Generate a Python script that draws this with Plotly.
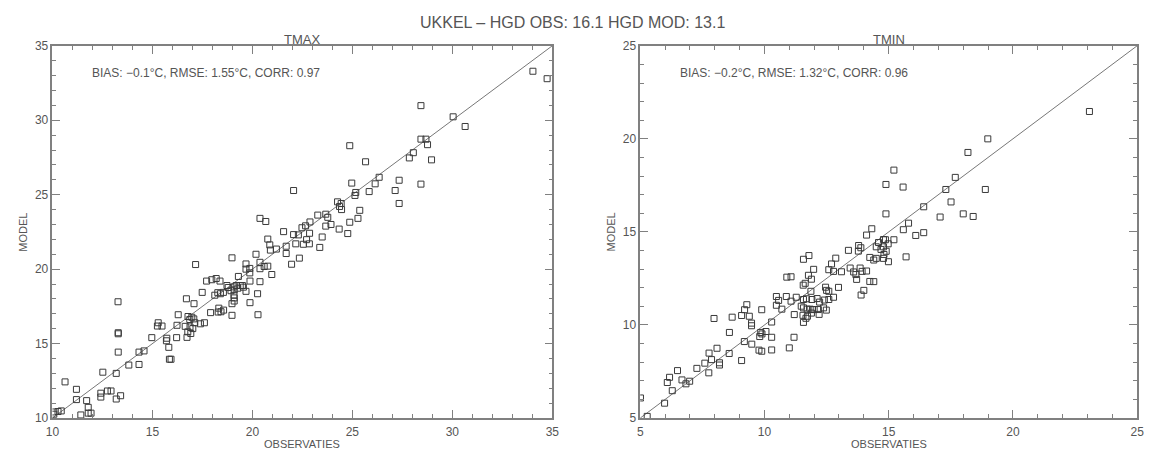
import plotly.graph_objects as go

# ---------------- data ----------------
TITLE = "UKKEL \u2013 HGD OBS: 16.1 HGD MOD: 13.1"
PANEL_TITLES = ["TMAX", "TMIN"]
STATS = ["BIAS: \u22120.1\u00b0C, RMSE: 1.55\u00b0C, CORR: 0.97",
         "BIAS: \u22120.2\u00b0C, RMSE: 1.32\u00b0C, CORR: 0.96"]
X_LABEL = "OBSERVATIES"
Y_LABEL = "MODEL"
TMAX_RANGE = [10, 35]
TMIN_RANGE = [5, 25]
TMAX_TICKS = [10, 15, 20, 25, 30, 35]
TMIN_TICKS = [5, 10, 15, 20, 25]

tmax_obs = [
    34.03, 34.74, 28.43, 30.04, 30.64, 24.87, 25.66, 28.43, 28.68, 28.76,
    27.85, 28.05, 28.96, 26.34, 26.14, 24.97, 27.34, 27.14, 28.43, 27.34,
    25.84, 25.17, 25.13, 22.06, 24.26, 24.44, 24.36, 24.46, 25.37, 23.27,
    23.67, 23.77, 25.28, 22.88, 24.87, 23.67, 23.93, 24.34, 24.77, 22.48,
    22.66, 22.06, 22.30, 22.86, 21.56, 23.49, 22.71, 22.85, 22.55, 22.17,
    21.69, 23.37, 21.69, 22.35,
    20.77, 20.87, 20.38, 20.67, 20.90, 21.20, 20.18, 20.38, 20.59, 20.77,
    20.38, 19.87, 19.87, 19.68, 19.68, 18.98, 17.16, 20.97, 19.88, 20.38,
    19.30, 17.71, 17.97, 18.19, 18.38, 18.73, 18.79, 19.08, 19.19, 19.27,
    19.39, 19.50, 19.55, 19.68, 19.09, 18.93, 18.27, 18.40, 18.55, 18.12,
    17.49, 20.26, 19.08, 19.09, 19.09, 18.98, 18.98, 19.88, 16.70, 17.08,
    18.32, 18.43, 18.56, 18.29, 17.91, 20.28, 16.29, 15.29, 15.25, 15.48,
    16.23, 21.96,
    16.78, 16.97, 17.07, 16.87, 17.12, 17.40, 17.60, 16.64, 16.88, 17.02,
    16.77, 16.92, 16.73, 16.21, 15.82, 15.85, 15.93, 15.72, 15.70, 14.97,
    14.58, 14.33, 14.33, 13.82, 13.28, 13.29, 13.29, 13.29, 13.19, 12.52,
    13.41, 13.19, 12.42, 12.42, 12.75, 12.93, 11.20, 11.20, 11.71, 11.79,
    11.79, 11.93, 11.42, 10.63, 10.07, 10.28, 10.44, 10.07,
]
tmax_mod = [
    33.29, 32.79, 30.98, 30.23, 29.58, 28.29, 27.21, 28.73, 28.73, 28.36,
    27.47, 27.82, 27.34, 26.17, 25.73, 25.78, 25.97, 25.28, 25.71, 24.41,
    25.21, 25.15, 24.95, 25.28, 24.52, 24.41, 24.21, 24.00, 23.95, 23.63,
    23.69, 23.48, 23.41, 23.17, 23.15, 22.89, 23.00, 22.69, 22.39, 22.78,
    22.91, 22.32, 22.30, 22.41, 22.52, 22.16, 21.98, 21.70, 21.67, 21.70,
    21.54, 21.46, 21.05, 20.74,
    22.02, 21.63, 23.41, 23.20, 21.28, 21.35, 21.00, 20.46, 20.18, 20.20,
    20.03, 20.05, 19.75, 20.35, 20.00, 20.76, 20.31, 19.64, 19.20, 19.16,
    19.51, 19.20, 19.29, 19.37, 19.20, 18.90, 18.77, 18.81, 18.90, 18.72,
    18.90, 18.90, 18.79, 18.51, 18.61, 18.55, 18.42, 18.35, 18.44, 18.25,
    18.44, 18.35, 18.25, 18.07, 17.86, 17.68, 16.90, 17.75, 18.01, 17.68,
    17.38, 17.14, 17.25, 17.12, 17.08, 16.94, 16.94, 16.40, 16.18, 16.18,
    16.23, 20.33,
    16.82, 16.77, 16.66, 16.62, 16.40, 16.33, 16.40, 16.16, 16.12, 16.01,
    15.79, 15.68, 15.42, 15.40, 14.75, 13.95, 13.95, 15.36, 15.19, 15.40,
    14.51, 14.43, 13.60, 13.56, 17.81, 15.73, 15.66, 14.43, 13.00, 13.08,
    11.50, 11.28, 11.67, 11.41, 11.82, 11.82, 11.93, 11.24, 11.17, 10.72,
    10.33, 10.33, 10.21, 12.43, 10.41, 10.44, 10.48, 10.26,
]

tmin_obs = [
    13.38, 13.78, 14.24, 14.40, 14.50, 11.57, 11.79, 12.87, 12.70, 11.98,
    12.59, 12.78, 13.10, 13.45, 13.59, 13.68, 13.71, 13.85, 13.93, 14.11,
    14.24, 14.40, 14.00, 13.89, 11.77, 11.89, 11.64, 11.56, 10.90, 11.07,
    11.87, 12.46, 12.50, 12.59, 12.98, 10.88, 10.48, 10.48, 10.57, 10.70,
    11.07, 11.28, 11.57, 11.69, 11.91, 12.12, 12.22, 12.41, 12.59, 12.78,
    11.48, 11.57, 11.72, 11.84, 11.93, 11.89, 11.73, 11.67, 11.57, 11.55,
    11.20, 12.17, 12.20, 12.38, 12.49, 12.00,
    11.19, 11.00, 10.29, 10.29, 10.29, 10.06, 9.85, 9.81, 9.90, 9.78,
    9.89, 9.49, 9.48, 9.48, 9.39, 9.29, 9.20, 9.08, 9.89, 9.19,
    9.08, 8.70, 7.97, 8.59, 8.58, 8.19, 8.19, 8.09, 7.87, 7.77,
    7.76, 7.60, 7.28, 6.50, 6.18, 6.09, 6.68, 6.84, 6.99, 6.29,
    5.98, 5.01, 5.28,
    18.19, 15.21, 14.89, 15.58, 17.68, 17.30, 18.89, 17.51, 16.41, 14.89,
    17.07, 18.00, 18.40, 15.80, 15.59, 16.41, 16.09, 14.32, 14.11, 14.79,
    14.87, 14.59, 14.50, 14.79, 14.98, 15.21, 14.69, 14.90, 14.81, 14.79,
    14.99, 15.70, 13.79, 13.88, 23.08, 18.99,
]
tmin_mod = [
    14.01, 13.97, 13.63, 13.49, 13.58, 13.53, 13.73, 13.59, 13.28, 12.99,
    12.97, 12.88, 12.86, 13.06, 12.85, 12.71, 12.45, 13.06, 12.88, 12.90,
    12.34, 12.33, 11.86, 11.61, 12.67, 12.46, 12.24, 12.14, 12.57, 12.59,
    11.81, 12.03, 11.86, 11.81, 12.02, 11.53, 11.53, 11.06, 11.32, 10.85,
    11.28, 11.49, 11.37, 11.41, 11.37, 11.42, 11.23, 11.34, 11.37, 11.49,
    11.01, 10.92, 10.85, 10.85, 10.83, 10.64, 10.47, 10.36, 10.14, 10.52,
    10.56, 10.83, 10.57, 10.92, 10.80, 10.83,
    9.34, 8.77, 10.16, 9.34, 8.66, 9.65, 9.60, 9.38, 9.52, 8.65,
    8.59, 8.97, 10.10, 9.96, 10.47, 11.09, 10.82, 10.51, 10.82, 9.11,
    8.09, 10.42, 10.35, 9.60, 8.47, 7.97, 7.85, 8.75, 8.14, 8.49,
    7.43, 7.95, 7.67, 7.55, 7.19, 6.91, 7.05, 6.84, 6.98, 6.47,
    5.80, 6.08, 5.09,
    19.27, 18.32, 17.55, 17.41, 17.93, 17.28, 17.28, 16.61, 16.35, 15.97,
    15.80, 15.97, 15.83, 15.47, 15.12, 14.96, 14.81, 15.17, 14.83, 14.59,
    14.58, 14.43, 14.20, 14.20, 14.36, 14.58, 14.06, 13.96, 13.79, 13.58,
    13.40, 13.66, 14.27, 14.15, 21.47, 20.00,
]

# ---------------- styling ----------------
W, H = 1155, 459
FONT = "Liberation Sans"
TXT = "#555555"
AX = "#808080"
MK = "#3a3a3a"

def px_dom(a, b, total):
    return [a / total, b / total]

xdom = [px_dom(46, 552, W), px_dom(641, 1144, W)]
ydom = [1 - 424 / H, 1 - 40 / H]

fig = go.Figure()
panels = [(tmax_obs, tmax_mod, TMAX_RANGE, TMAX_TICKS),
          (tmin_obs, tmin_mod, TMIN_RANGE, TMIN_TICKS)]

for i, (xo, ym, rng, ticks) in enumerate(panels):
    xa = "x" if i == 0 else "x2"
    ya = "y" if i == 0 else "y2"
    fig.add_trace(go.Scatter(x=rng, y=rng, mode="lines", xaxis=xa, yaxis=ya,
                             line=dict(color="#777777", width=1), showlegend=False,
                             hoverinfo="skip"))
    fig.add_trace(go.Scatter(x=xo, y=ym, mode="markers", xaxis=xa, yaxis=ya,
                             marker=dict(symbol="square-open", size=6, color=MK,
                                         line=dict(width=1, color=MK)),
                             showlegend=False))
    axcommon = dict(range=rng, tickvals=ticks, ticks="inside", ticklen=8,
                    tickwidth=1, tickcolor=AX, showline=True, linecolor=AX,
                    linewidth=1.5, mirror="allticks", showgrid=False,
                    zeroline=False, tickfont=dict(family=FONT, size=12, color=TXT),
                    minor=dict(dtick=1, ticks="inside", ticklen=4, tickcolor=AX,
                               tickwidth=1, showgrid=False))
    suffix = "" if i == 0 else "2"
    fig.layout["xaxis" + suffix] = dict(axcommon, domain=xdom[i], anchor=ya,
                                        ticklabelstandoff=2)
    fig.layout["yaxis" + suffix] = dict(axcommon, domain=ydom, anchor=xa)

    cx = (xdom[i][0] + xdom[i][1]) / 2
    fig.add_annotation(text=PANEL_TITLES[i], x=cx, y=1 - 34 / H, xref="paper",
                       yref="paper", showarrow=False, xanchor="center",
                       yanchor="middle", font=dict(family=FONT, size=13, color=TXT))
    fig.add_annotation(text=X_LABEL, x=cx, y=1 - 451 / H, xref="paper",
                       yref="paper", showarrow=False, xanchor="center",
                       yanchor="middle", font=dict(family=FONT, size=11, color=TXT))
    fig.add_annotation(text=Y_LABEL, x=(xdom[i][0] * W - 30) / W, y=(ydom[0] + ydom[1]) / 2,
                       xref="paper", yref="paper", showarrow=False, textangle=-90,
                       xanchor="center", yanchor="middle",
                       font=dict(family=FONT, size=11, color=TXT))
    fig.add_annotation(text=STATS[i], x=(xdom[i][0] * W + 38) / W, y=1 - 68 / H,
                       xref="paper", yref="paper", showarrow=False, xanchor="left",
                       yanchor="middle", font=dict(family=FONT, size=12, color=TXT))

fig.add_annotation(text=TITLE, x=572 / W, y=1 - 16 / H, xref="paper", yref="paper",
                   showarrow=False, xanchor="center", yanchor="middle",
                   font=dict(family=FONT, size=16, color=TXT))

fig.update_layout(width=W, height=H, margin=dict(l=0, r=0, t=0, b=0),
                  paper_bgcolor="white", plot_bgcolor="white", showlegend=False)

fig.write_html("out.html")
